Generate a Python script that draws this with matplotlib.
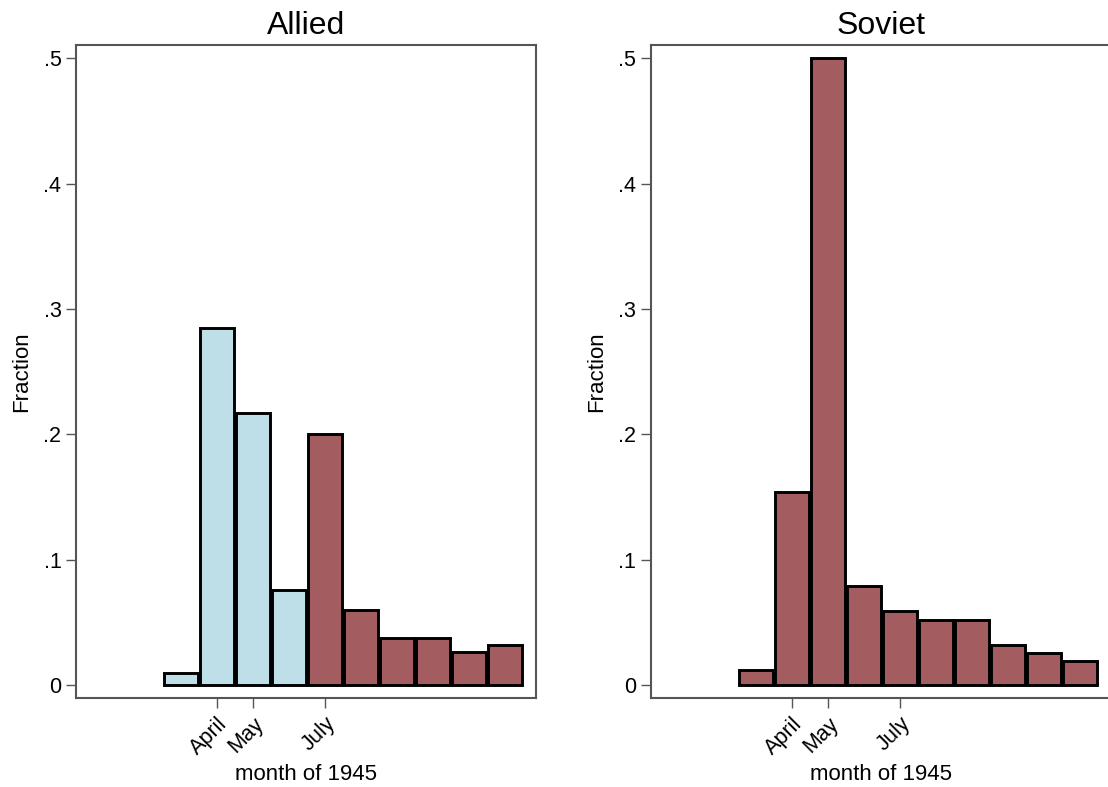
import numpy as np
import matplotlib
matplotlib.use('Agg')
from matplotlib import pyplot as plt
plt.rcParams.update({'font.family': ['Liberation Sans', 'DejaVu Sans'], 'font.size': 16})

## Data (fraction of cases per month of 1945)
months = [3, 4, 5, 6, 7, 8, 9, 10, 11, 12]
allied_frac = [0.0094, 0.285, 0.217, 0.076, 0.200, 0.060, 0.0374, 0.0374, 0.0262, 0.0321]
soviet_frac = [0.0116, 0.154, 0.500, 0.079, 0.059, 0.052, 0.052, 0.032, 0.0254, 0.0188]
allied_blue_months = [3, 4, 5, 6]   # months drawn in light blue on the Allied panel

tick_months = [4, 5, 7]
tick_labels = ['April', 'May', 'July']
yticks = [0, 0.1, 0.2, 0.3, 0.4, 0.5]
ytick_labels = ['0', '.1', '.2', '.3', '.4', '.5']

light_blue = '#BEDFE8'
maroon = '#A35C5F'
spine_col = '#555555'

fig = plt.figure(figsize=(11.08, 7.87), dpi=100)
ax_l = fig.add_axes([0.0686, 0.1131, 0.4152, 0.8301])
ax_r = fig.add_axes([0.5875, 0.1131, 0.4152, 0.8301])


def draw_panel(ax, vals, colors, title):
    ax.bar(months, vals, width=0.94, color=colors, edgecolor='black', linewidth=2.1)
    ax.set_xlim(0.08, 12.87)
    ax.set_ylim(-0.0104, 0.511)
    ax.set_xticks(tick_months)
    ax.set_xticklabels(tick_labels, rotation=45, ha='right', rotation_mode='anchor')
    ax.set_yticks(yticks)
    ax.set_yticklabels(ytick_labels)
    ax.tick_params(axis='both', direction='out', length=7, width=1, color=spine_col,
                   labelsize=15.5)
    ax.tick_params(axis='x', pad=4)
    for sp in ax.spines.values():
        sp.set_color(spine_col)
        sp.set_linewidth(1.5)
    ax.set_xlabel('month of 1945', fontsize=16, labelpad=4)
    ax.set_ylabel('Fraction', fontsize=16, labelpad=8)
    ax.set_title(title, fontsize=23, pad=8)


allied_colors = [light_blue if m in allied_blue_months else maroon for m in months]
draw_panel(ax_l, allied_frac, allied_colors, 'Allied')
draw_panel(ax_r, soviet_frac, maroon, 'Soviet')

fig.savefig('out.png', dpi=100)
